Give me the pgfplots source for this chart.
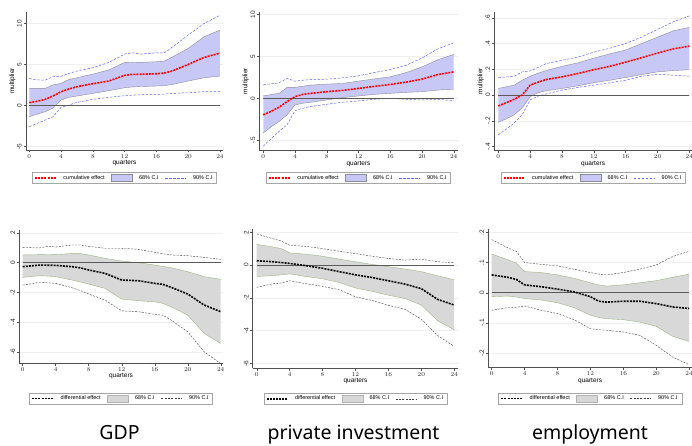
\documentclass[border=0pt]{standalone}
\usepackage{fontspec}
\setmainfont{Liberation Sans}
\newfontfamily\titlefont{Noto Sans}
\usepackage{pgfplots}
\pgfplotsset{compat=1.18}
\usepackage{pgfplotstable}
\usepgfplotslibrary{fillbetween}

\definecolor{bandtop}{RGB}{200,200,246}
\definecolor{bandtopedge}{RGB}{140,140,150}
\definecolor{bandbot}{RGB}{216,216,216}
\definecolor{bandbotedge}{RGB}{160,180,130}
\definecolor{ciblue}{RGB}{100,100,255}
\definecolor{zeroline}{RGB}{90,90,90}
\definecolor{axisgray}{RGB}{80,80,80}

% x mean hi68 lo68 hi90 lo90
\pgfplotstableread{
x mean hi68 lo68 hi90 lo90
0 0.33 2.07 -1.38 3.29 -2.60
1 0.50 2.07 -1.08 3.10 -2.20
2 0.73 2.07 -0.77 3.09 -1.79
3 1.15 2.50 -0.33 3.50 -1.38
4 1.67 2.68 0.65 3.54 -0.24
5 2.00 3.17 0.98 3.90 0.04
6 2.28 3.37 1.14 4.19 0.37
8 2.64 3.82 1.46 4.60 0.73
10 2.97 4.31 1.79 5.24 0.98
12 3.66 5.24 2.15 6.26 1.18
13 3.78 5.27 2.25 6.42 1.25
14 3.80 5.24 2.30 6.26 1.30
16 3.86 5.33 2.36 6.42 1.34
17 3.94 5.40 2.40 6.42 1.38
18 4.20 5.90 2.55 7.10 1.46
20 5.00 6.95 2.97 8.58 1.54
22 5.85 8.37 3.37 10.0 1.67
24 6.38 9.19 3.58 11.0 1.71
}\tA
\pgfplotstableread{
x mean hi68 lo68 hi90 lo90
0 -1.97 0.28 -4.13 1.65 -5.71
1 -1.55 0.45 -3.40 1.72 -4.80
2 -1.06 0.59 -2.76 1.85 -3.94
3 -0.39 1.30 -1.97 2.36 -3.15
4 0.20 1.30 -0.79 2.05 -1.46
5 0.47 1.45 -0.59 2.15 -1.18
6 0.59 1.57 -0.47 2.24 -0.98
8 0.79 1.69 -0.20 2.28 -0.71
10 0.94 1.77 0.08 2.44 -0.47
12 1.18 2.05 0.28 2.68 -0.31
14 1.42 2.32 0.47 3.07 -0.12
16 1.65 2.56 0.59 3.43 0.00
18 1.93 3.07 0.71 3.94 -0.12
20 2.28 3.74 0.79 4.80 -0.20
22 2.83 4.60 0.98 5.90 -0.12
24 3.15 5.24 1.06 6.61 -0.28
}\tB
\pgfplotstableread{
x mean hi68 lo68 hi90 lo90
0 -0.085 0.051 -0.213 0.136 -0.310
1 -0.060 0.064 -0.185 0.140 -0.265
2 -0.033 0.077 -0.154 0.146 -0.218
3 0.000 0.115 -0.100 0.180 -0.154
4 0.077 0.146 -0.013 0.187 -0.038
5 0.100 0.170 0.018 0.215 -0.008
6 0.120 0.190 0.033 0.244 0.008
8 0.141 0.223 0.051 0.270 0.038
10 0.167 0.250 0.072 0.295 0.059
12 0.197 0.287 0.095 0.333 0.077
14 0.223 0.320 0.115 0.364 0.095
16 0.256 0.350 0.136 0.400 0.115
18 0.290 0.400 0.159 0.450 0.146
20 0.326 0.450 0.180 0.510 0.162
22 0.359 0.500 0.190 0.570 0.154
24 0.380 0.526 0.197 0.615 0.146
}\tC
\pgfplotstableread{
x mean hi68 lo68 hi90 lo90
0 -0.27 0.52 -0.99 1.03 -1.51
2 -0.16 0.54 -0.88 0.99 -1.33
3 -0.17 0.55 -0.90 1.10 -1.35
4 -0.18 0.56 -0.94 1.06 -1.39
6 -0.27 0.61 -1.17 1.19 -1.69
7 -0.35 0.61 -1.30 1.19 -1.88
8 -0.49 0.52 -1.44 1.10 -2.11
10 -0.72 0.29 -1.73 0.97 -2.52
12 -1.17 0.11 -2.45 0.97 -3.24
14 -1.21 0.00 -2.56 0.90 -3.30
16 -1.39 -0.16 -2.63 0.70 -3.48
17 -1.46 -0.25 -2.74 0.60 -3.53
18 -1.66 -0.34 -2.97 0.52 -3.87
20 -2.11 -0.61 -3.53 0.47 -4.65
22 -2.85 -0.94 -4.76 0.36 -6.00
24 -3.30 -1.12 -5.44 0.22 -6.79
}\tD
\pgfplotstableread{
x mean hi68 lo68 hi90 lo90
0 0.26 1.26 -0.70 1.90 -1.36
2 0.20 1.10 -0.64 1.60 -1.14
3 0.15 1.00 -0.60 1.46 -1.10
4 0.10 0.74 -0.54 1.20 -0.96
6 -0.04 0.66 -0.70 1.14 -1.14
8 -0.20 0.54 -0.84 1.00 -1.30
10 -0.40 0.36 -1.06 0.84 -1.50
12 -0.60 0.20 -1.40 0.70 -1.94
14 -0.76 0.04 -1.60 0.54 -2.16
16 -0.96 -0.10 -1.84 0.40 -2.46
18 -1.16 -0.24 -2.04 0.30 -2.70
20 -1.44 -0.40 -2.44 0.36 -3.30
22 -2.10 -0.66 -3.40 0.20 -4.30
24 -2.44 -0.90 -3.96 0.14 -4.96
}\tE
\pgfplotstableread{
x mean hi68 lo68 hi90 lo90
0 0.059 0.128 -0.013 0.176 -0.058
2 0.051 0.109 -0.011 0.148 -0.049
3 0.044 0.098 -0.014 0.137 -0.048
4 0.026 0.070 -0.019 0.100 -0.044
6 0.020 0.067 -0.024 0.094 -0.058
8 0.012 0.059 -0.033 0.089 -0.069
10 0.003 0.048 -0.049 0.078 -0.089
12 -0.013 0.033 -0.074 0.067 -0.119
13 -0.028 0.026 -0.082 0.062 -0.122
14 -0.031 0.022 -0.086 0.059 -0.124
16 -0.028 0.026 -0.089 0.067 -0.130
18 -0.028 0.033 -0.097 0.078 -0.141
20 -0.036 0.040 -0.111 0.092 -0.174
22 -0.047 0.051 -0.144 0.120 -0.213
24 -0.052 0.062 -0.161 0.137 -0.238
}\tF

\pgfplotsset{
 panel/.style={
  scale only axis, anchor=south west,
  axis lines*=left, axis line style={axisgray, line width=0.5pt},
  xtick={0,4,...,24}, tick align=outside, major tick length=2.5pt,
  tick style={axisgray, line width=0.4pt},
  ymajorgrids, major grid style={gray!12, line width=0.4pt},
  tick label style={font=\fontsize{6.5}{7}\selectfont, text=black!85},
  xticklabel style={inner sep=1.5pt},
  yticklabel style={rotate=90, anchor=south, inner sep=1.5pt},
  xlabel={quarters}, xlabel style={font=\fontsize{6.5}{7}\selectfont, inner sep=0pt, yshift=-0.5pt},
  ylabel style={font=\fontsize{6.5}{7}\selectfont, inner sep=0pt},
  legend columns=3,
  legend style={font=\fontsize{5.5}{6}\selectfont, draw=gray!70, line width=0.4pt,
    inner xsep=2pt, inner ysep=1pt, anchor=north,
    /tikz/every even column/.append style={column sep=4.5pt},
    /tikz/every odd column/.append style={column sep=4.5pt}},
  legend cell align=left,
  legend image code/.code={\draw[##1] (0pt,0pt) -- (21pt,0pt);},
 },
 bandlegend/.style={legend image code/.code={\draw[##1] (0pt,-3.5pt) rectangle (21pt,3.5pt);}},
 meantop/.style={red, line width=1.6pt, dash pattern=on 2pt off 1.1pt},
 citop/.style={ciblue, line width=0.5pt, dash pattern=on 2.5pt off 1.5pt},
 meanbot/.style={black, line width=1.6pt, dash pattern=on 2pt off 1.1pt},
 cibot/.style={black!75, line width=0.4pt, dash pattern=on 2pt off 1.3pt},
}

\begin{document}
\begin{tikzpicture}

% ---------- top left: GDP cumulative ----------
\begin{axis}[panel, at={(26pt,296pt)}, width=197pt, height=138pt,
  xmin=-0.415, xmax=24.38, ymin=-5.45, ymax=11.4,
  ytick={-5,0,5,10}, yticklabels={-5,0,5,10}, ylabel={multiplier},
  legend style={at={(0.5,-0.159)}}]
\addlegendimage{meantop}\addlegendentry{cumulative effect}
\addlegendimage{bandlegend, fill=bandtop, draw=bandtopedge}\addlegendentry{68\% C.I}
\addlegendimage{citop}\addlegendentry{90\% C.I}
\addplot[name path=U, draw=bandtopedge, line width=0.4pt, forget plot] table[x=x,y=hi68]{\tA};
\addplot[name path=L, draw=bandtopedge, line width=0.4pt, forget plot] table[x=x,y=lo68]{\tA};
\addplot[fill=bandtop, draw=none, forget plot] fill between[of=U and L];
\addplot[citop, forget plot] table[x=x,y=hi90]{\tA};
\addplot[citop, forget plot] table[x=x,y=lo90]{\tA};
\addplot[zeroline, line width=0.8pt, forget plot] coordinates {(0,0) (24,0)};
\addplot[meantop, forget plot] table[x=x,y=mean]{\tA};
\end{axis}

% ---------- top middle: private investment cumulative ----------
\begin{axis}[panel, at={(259.3pt,295.3pt)}, width=198.4pt, height=139pt,
  xmin=-0.5, xmax=24.5, ymin=-6.25, ymax=10.33,
  ytick={-5,0,5,10}, yticklabels={-5,0,5,10}, ylabel={multiplier},
  legend style={at={(0.5,-0.153)}}]
\addlegendimage{meantop}\addlegendentry{cumulative effect}
\addlegendimage{bandlegend, fill=bandtop, draw=bandtopedge}\addlegendentry{68\% C.I}
\addlegendimage{citop}\addlegendentry{90\% C.I}
\addplot[name path=U, draw=bandtopedge, line width=0.4pt, forget plot] table[x=x,y=hi68]{\tB};
\addplot[name path=L, draw=bandtopedge, line width=0.4pt, forget plot] table[x=x,y=lo68]{\tB};
\addplot[fill=bandtop, draw=none, forget plot] fill between[of=U and L];
\addplot[citop, forget plot] table[x=x,y=hi90]{\tB};
\addplot[citop, forget plot] table[x=x,y=lo90]{\tB};
\addplot[zeroline, line width=0.8pt, forget plot] coordinates {(0,0) (24,0)};
\addplot[meantop, forget plot] table[x=x,y=mean]{\tB};
\end{axis}

% ---------- top right: employment cumulative ----------
\begin{axis}[panel, at={(494.3pt,295.3pt)}, width=197.7pt, height=139pt,
  xmin=-0.5, xmax=24.33, ymin=-0.433, ymax=0.648,
  ytick={-0.4,-0.2,0,0.2,0.4,0.6}, yticklabels={-.4,-.2,0,.2,.4,.6}, ylabel={multiplier},
  legend style={at={(0.5,-0.153)}}]
\addlegendimage{meantop}\addlegendentry{cumulative effect}
\addlegendimage{bandlegend, fill=bandtop, draw=bandtopedge}\addlegendentry{68\% C.I}
\addlegendimage{citop}\addlegendentry{90\% C.I}
\addplot[name path=U, draw=bandtopedge, line width=0.4pt, forget plot] table[x=x,y=hi68]{\tC};
\addplot[name path=L, draw=bandtopedge, line width=0.4pt, forget plot] table[x=x,y=lo68]{\tC};
\addplot[fill=bandtop, draw=none, forget plot] fill between[of=U and L];
\addplot[citop, forget plot] table[x=x,y=hi90]{\tC};
\addplot[citop, forget plot] table[x=x,y=lo90]{\tC};
\addplot[zeroline, line width=0.8pt, forget plot] coordinates {(0,0) (24,0)};
\addplot[meantop, forget plot] table[x=x,y=mean]{\tC};
\end{axis}

% ---------- bottom left: GDP differential ----------
\begin{axis}[panel, at={(19.3pt,82.7pt)}, width=203.4pt, height=133.3pt,
  xmin=-0.41, xmax=24.24, ymin=-6.77, ymax=2.2,
  ytick={-6,-4,-2,0,2}, yticklabels={-6,-4,-2,0,2},
  legend style={at={(0.5,-0.22)}}]
\addlegendimage{meanbot}\addlegendentry{differential effect}
\addlegendimage{bandlegend, fill=bandbot, draw=gray!60}\addlegendentry{68\% C.I}
\addlegendimage{cibot}\addlegendentry{90\% C.I}
\addplot[name path=U, draw=bandbotedge, line width=0.4pt, forget plot] table[x=x,y=hi68]{\tD};
\addplot[name path=L, draw=bandbotedge, line width=0.4pt, forget plot] table[x=x,y=lo68]{\tD};
\addplot[fill=bandbot, draw=none, forget plot] fill between[of=U and L];
\addplot[cibot, forget plot] table[x=x,y=hi90]{\tD};
\addplot[cibot, forget plot] table[x=x,y=lo90]{\tD};
\addplot[zeroline, line width=0.8pt, forget plot] coordinates {(0,0) (24,0)};
\addplot[meanbot, forget plot] table[x=x,y=mean]{\tD};
\end{axis}

% ---------- bottom middle: private investment differential ----------
\begin{axis}[panel, at={(252.7pt,77.7pt)}, width=205.6pt, height=139pt,
  xmin=-0.49, xmax=24.5, ymin=-6.3, ymax=2.18,
  ytick={-6,-4,-2,0,2}, yticklabels={-6,-4,-2,0,2},
  legend style={at={(0.5,-0.176)}}]
\addlegendimage{meanbot}\addlegendentry{differential effect}
\addlegendimage{bandlegend, fill=bandbot, draw=gray!60}\addlegendentry{68\% C.I}
\addlegendimage{cibot}\addlegendentry{90\% C.I}
\addplot[name path=U, draw=bandbotedge, line width=0.4pt, forget plot] table[x=x,y=hi68]{\tE};
\addplot[name path=L, draw=bandbotedge, line width=0.4pt, forget plot] table[x=x,y=lo68]{\tE};
\addplot[fill=bandbot, draw=none, forget plot] fill between[of=U and L];
\addplot[cibot, forget plot] table[x=x,y=hi90]{\tE};
\addplot[cibot, forget plot] table[x=x,y=lo90]{\tE};
\addplot[zeroline, line width=0.8pt, forget plot] coordinates {(0,0) (24,0)};
\addplot[meanbot, forget plot] table[x=x,y=mean]{\tE};
\end{axis}

% ---------- bottom right: employment differential ----------
\begin{axis}[panel, at={(488.3pt,78.3pt)}, width=203.7pt, height=138.4pt,
  xmin=-0.41, xmax=24.35, ymin=-0.248, ymax=0.21,
  ytick={-0.2,-0.1,0,0.1,0.2}, yticklabels={-.2,-.1,0,.1,.2},
  legend style={at={(0.5,-0.18)}}]
\addlegendimage{meanbot}\addlegendentry{differential effect}
\addlegendimage{bandlegend, fill=bandbot, draw=gray!60}\addlegendentry{68\% C.I}
\addlegendimage{cibot}\addlegendentry{90\% C.I}
\addplot[name path=U, draw=bandbotedge, line width=0.4pt, forget plot] table[x=x,y=hi68]{\tF};
\addplot[name path=L, draw=bandbotedge, line width=0.4pt, forget plot] table[x=x,y=lo68]{\tF};
\addplot[fill=bandbot, draw=none, forget plot] fill between[of=U and L];
\addplot[cibot, forget plot] table[x=x,y=hi90]{\tF};
\addplot[cibot, forget plot] table[x=x,y=lo90]{\tF};
\addplot[zeroline, line width=0.8pt, forget plot] coordinates {(0,0) (24,0)};
\addplot[meanbot, forget plot] table[x=x,y=mean]{\tF};
\end{axis}

% ---------- column titles ----------
\node[font=\titlefont\fontsize{19.5}{22}\selectfont, anchor=base] at (119.5pt,6pt) {GDP};
\node[font=\titlefont\fontsize{19.5}{22}\selectfont, anchor=base] at (353.5pt,6pt) {private investment};
\node[font=\titlefont\fontsize{19.5}{22}\selectfont, anchor=base] at (590pt,6pt) {employment};
\pgfresetboundingbox
\path[use as bounding box] (0pt,0pt) rectangle (692pt,446pt);
\end{tikzpicture}
\end{document}
